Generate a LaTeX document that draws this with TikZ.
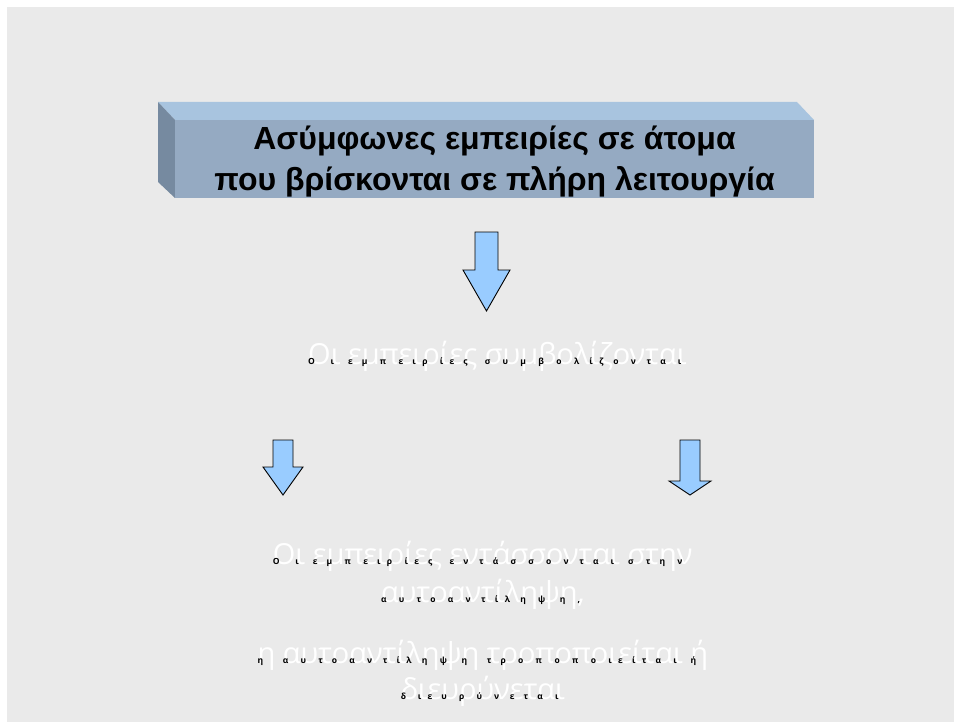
\documentclass[tikz,border=0pt]{standalone}
\usepackage{fontspec}
\setmainfont{Liberation Sans}
\newfontfamily\headfont{Liberation Sans}
\newfontfamily\bodyfont{Open Sans}

\definecolor{slide}{HTML}{EAEAEA}
\definecolor{facetop}{HTML}{A8C4DF}
\definecolor{facefront}{HTML}{95AAC2}
\definecolor{faceside}{HTML}{768AA0}
\definecolor{arrowfill}{HTML}{99CCFF}

\makeatletter
\newlength\glyphwd
\newcommand\bigtext{\bodyfont\fontsize{29}{34}\selectfont}
\newcommand\smalltext{\bodyfont\bfseries\fontsize{8.5}{9}\selectfont}
% each small letter sits at the start of the matching large glyph
\newcommand\spelt[1]{\@tfor\sp@letter:=#1\do{%
  \settowidth\glyphwd{\bigtext\sp@letter}%
  \makebox[\glyphwd][l]{\smalltext\sp@letter}}}
\newcommand\spgap{\settowidth\glyphwd{\bigtext\ }\hspace*{\glyphwd}}
\newcommand\echoline[2]{\rlap{\textcolor{white}{\bigtext #1}}#2}
\makeatother

\tikzset{
  blockarrow/.style={fill=arrowfill, draw=black, line width=0.9pt, line join=miter},
  echo/.style={anchor=base, inner sep=0pt, text=black},
}

\begin{document}
\begin{tikzpicture}[x=1pt, y=-1pt]
\useasboundingbox (0,0) rectangle (955,722);
\fill[white] (0,0) rectangle (955,722);
\fill[slide] (7,7) rectangle (954,722);

% raised title block
\fill[facetop] (158,102) -- (797,102) -- (814,120) -- (175,120) -- cycle;
\fill[faceside] (158,102) -- (175,120) -- (175,198) -- (158,182) -- cycle;
\fill[facefront] (175,120) rectangle (814,198);
\node[font=\headfont\bfseries\fontsize{32}{41}\selectfont, align=center, inner sep=0pt]
  (title) at (494.5,162) {Ασύμφωνες εμπειρίες σε άτομα\\που βρίσκονται σε πλήρη λειτουργία};

% block arrows
\draw[blockarrow] (475,232) -- (498,232) -- (498,270) -- (510,270) -- (486.5,311)
  -- (463,270) -- (475,270) -- cycle;
\draw[blockarrow] (273,440) -- (293,440) -- (293,467) -- (303,467) -- (283,495)
  -- (263,467) -- (273,467) -- cycle;
\draw[blockarrow] (680,440) -- (700,440) -- (700,481) -- (711,481) -- (690,495)
  -- (669,481) -- (680,481) -- cycle;

% text lines
\node[echo] (sym) at (498,364)
  {\echoline{Οι εμπειρίες συμβολίζονται}{\spelt{Οι}\spgap\spelt{εμπειρίες}\spgap\spelt{συμβολίζονται}}};
\node[echo] (int1) at (483,564)
  {\echoline{Οι εμπειρίες εντάσσονται στην}{\spelt{Οι}\spgap\spelt{εμπειρίες}\spgap\spelt{εντάσσονται}\spgap\spelt{στην}}};
\node[echo] (int2) at (483,602)
  {\echoline{αυτοαντίληψη,}{\spelt{αυτοαντίληψη,}}};
\node[echo] (mod1) at (483,663)
  {\echoline{η αυτοαντίληψη τροποποιείται ή}{\spelt{η}\spgap\spelt{αυτοαντίληψη}\spgap\spelt{τροποποιείται}\spgap\spelt{ή}}};
\node[echo] (mod2) at (483,699)
  {\echoline{διευρύνεται}{\spelt{διευρύνεται}}};
\end{tikzpicture}
\end{document}
